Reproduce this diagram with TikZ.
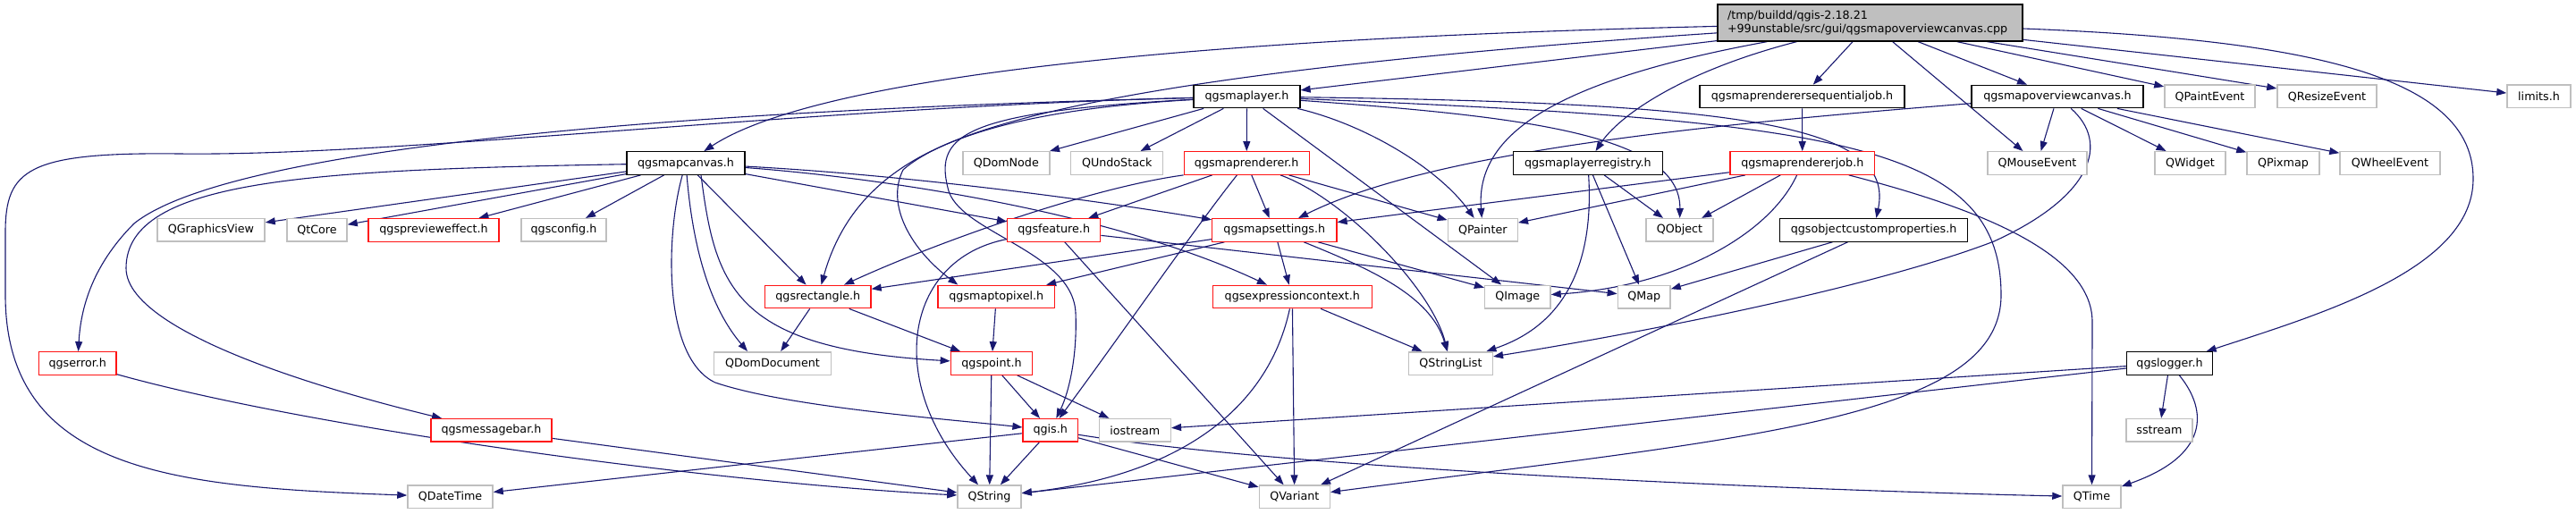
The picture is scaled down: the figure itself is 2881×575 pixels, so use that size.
\documentclass[tikz,border=0pt]{standalone}
\usepackage{fontspec}
\newfontfamily\djfont{DejaVu Sans}
\usetikzlibrary{arrows.meta}
\definecolor{edgec}{RGB}{25,25,112}
\definecolor{sysc}{RGB}{191,191,191}
\definecolor{redc}{RGB}{255,20,20}
\definecolor{topfill}{RGB}{191,191,191}
\pgfdeclarelayer{bglayer}
\pgfdeclarelayer{edgelayer}
\pgfsetlayers{bglayer,edgelayer,main}
\newcommand{\nfont}{\djfont\fontsize{12.7pt}{15.4pt}\selectfont}
\tikzset{
  nbase/.style={rectangle, fill=white, minimum height=25.5pt, inner sep=0pt, text=black, font=\nfont},
  blk/.style={nbase, draw=black, line width=1.3pt},
  redbox/.style={nbase, draw=redc, line width=1.3pt},
  sysbox/.style={nbase, draw=sysc, line width=1.5pt},
  topbox/.style={rectangle, fill=topfill, draw=black, line width=1.3pt, inner xsep=11pt, inner ysep=0pt,
     text width=319pt, align=left, minimum height=41pt, font=\nfont},
  dep/.style={draw=edgec, line width=1.1pt, -{Triangle[length=11pt,width=8pt]}}
}
\begin{document}
\begin{tikzpicture}[x=1pt,y=-1pt]
\begin{pgfonlayer}{bglayer}
\fill[white] (0,0) rectangle (2881,575);
\end{pgfonlayer}
\useasboundingbox (0,0) rectangle (2881,575);
% row 0
\node[topbox] (T) at (2091.5,25.5) {/tmp/buildd/qgis-2.18.21\\+99unstable/src/gui/qgsmapoverviewcanvas.cpp};
% row 1
\node[blk, minimum width=119pt] (ML) at (1394.5,108) {qgsmaplayer.h};
\node[blk, minimum width=229pt] (SEQ) at (2015.5,108) {qgsmaprenderersequentialjob.h};
\node[blk, minimum width=192pt] (MOC) at (2301,108) {qgsmapoverviewcanvas.h};
\node[sysbox, minimum width=101pt] (QPE) at (2471.5,108) {QPaintEvent};
\node[sysbox, minimum width=111pt] (QRE) at (2602.5,108) {QResizeEvent};
\node[sysbox, minimum width=71pt] (LIM) at (2839.5,108) {limits.h};
% row 2
\node[blk, minimum width=132pt] (MC) at (767,182.5) {qgsmapcanvas.h};
\node[sysbox, minimum width=97pt] (QDN) at (1125.3,182.5) {QDomNode};
\node[sysbox, minimum width=103pt] (QUS) at (1249.2,182.5) {QUndoStack};
\node[redbox, minimum width=140pt] (MR) at (1394.2,182.5) {qgsmaprenderer.h};
\node[blk, minimum width=167pt] (MLR) at (1775.8,182.5) {qgsmaplayerregistry.h};
\node[redbox, minimum width=161.5pt] (MRJ) at (2015.8,182.5) {qgsmaprendererjob.h};
\node[sysbox, minimum width=111pt] (QME) at (2278.5,182.5) {QMouseEvent};
\node[sysbox, minimum width=79pt] (QWI) at (2449.5,182.5) {QWidget};
\node[sysbox, minimum width=81pt] (QPX) at (2553.5,182.5) {QPixmap};
\node[sysbox, minimum width=112pt] (QWE) at (2673,182.5) {QWheelEvent};
% row 3
\node[sysbox, minimum width=120pt] (QGV) at (236,257.4) {QGraphicsView};
\node[sysbox, minimum width=67pt] (QTC) at (354.5,257.4) {QtCore};
\node[redbox, minimum width=146pt] (PRE) at (485,257.4) {qgsprevieweffect.h};
\node[sysbox, minimum width=95pt] (CFG) at (630.5,257.4) {qgsconfig.h};
\node[redbox, minimum width=104pt] (QF) at (1178.7,257.4) {qgsfeature.h};
\node[redbox, minimum width=139.3pt] (MS) at (1425.3,257.4) {qgsmapsettings.h};
\node[sysbox, minimum width=78pt] (QPT) at (1658.3,257.4) {QPainter};
\node[sysbox, minimum width=75pt] (QOB) at (1878.5,257.4) {QObject};
\node[blk, minimum width=210pt] (OCP) at (2095.6,257.4) {qgsobjectcustomproperties.h};
% row 4
\node[redbox, minimum width=118.5pt] (QR) at (914.8,332) {qgsrectangle.h};
\node[redbox, minimum width=130.7pt] (MTP) at (1114.3,332) {qgsmaptopixel.h};
\node[redbox, minimum width=178pt] (QE) at (1445.3,332) {qgsexpressioncontext.h};
\node[sysbox, minimum width=73.3pt] (QIM) at (1697.3,332) {QImage};
\node[sysbox, minimum width=58.7pt] (QMP) at (1838.7,332) {QMap};
% row 5
\node[redbox, minimum width=86.5pt] (ERR) at (86.8,406.5) {qgserror.h};
\node[sysbox, minimum width=131pt] (QDD) at (864,406.5) {QDomDocument};
\node[redbox, minimum width=91.4pt] (QP) at (1109,406.5) {qgspoint.h};
\node[sysbox, minimum width=93.6pt] (QSL) at (1622.5,406.5) {QStringList};
\node[blk, minimum width=96pt] (LOG) at (2426.5,406.5) {qgslogger.h};
% row 6
\node[redbox, minimum width=135pt] (MB) at (549.5,481.3) {qgsmessagebar.h};
\node[redbox, minimum width=61.3pt] (QG) at (1174.7,481.3) {qgis.h};
\node[sysbox, minimum width=80pt] (IOS) at (1269.3,481.3) {iostream};
\node[sysbox, minimum width=74pt] (SST) at (2415,481.3) {sstream};
% row 7
\node[sysbox, minimum width=95pt] (QDT) at (503.5,555.8) {QDateTime};
\node[sysbox, minimum width=71pt] (QS) at (1106.5,555.8) {QString};
\node[sysbox, minimum width=79pt] (QV) at (1447.8,555.8) {QVariant};
\node[sysbox, minimum width=65pt] (QTM) at (2339.5,555.8) {QTime};

\begin{pgfonlayer}{edgelayer}
% edges from the cpp
\draw[dep] (T) .. controls (1250,45) and (900,95) .. (MC);
\draw[dep] (T) -- (ML);
\draw[dep] (T) -- (SEQ);
\draw[dep] (T) -- (QME);
\draw[dep] (T) -- (MOC);
\draw[dep] (T) -- (QPE);
\draw[dep] (T) -- (QRE);
\draw[dep] (T) -- (LIM);
\draw[dep] (T) .. controls (2600,45) and (2766,90) .. (2766,200) .. controls (2766,300) and (2600,350) .. (LOG);
\draw[dep] (T) .. controls (1740,90) and (1650,150) .. (QPT);
\draw[dep] (T) .. controls (1880,80) and (1810,130) .. (MLR);
\draw[dep] (T) .. controls (1500,65) and (1100,110) .. (1010,190) .. controls (990,230) and (1020,280) .. ([xshift=-43pt]MTP.north);
% qgsmaplayer.h
\draw[dep] (ML) .. controls (900,120) and (450,175) .. (200,172) .. controls (30,170) and (6,190) .. (6,260) -- (6,330) .. controls (6,530) and (200,545) .. (QDT);
\draw[dep] (ML) .. controls (700,125) and (250,170) .. (150,250) .. controls (100,300) and (90,350) .. (ERR);
\draw[dep] (ML) .. controls (1100,125) and (960,170) .. (QR);
\draw[dep] (ML) .. controls (1080,125) and (1045,150) .. (1060,210) .. controls (1070,260) and (1200,280) .. (1203,350) .. controls (1205,400) and (1195,440) .. (QG);
\draw[dep] (ML) -- (QDN);
\draw[dep] (ML) -- (QUS);
\draw[dep] (ML) -- (MR);
\draw[dep] (ML) -- (QIM);
\draw[dep] (ML) .. controls (1530,140) and (1610,190) .. (QPT);
\draw[dep] (ML) .. controls (1950,115) and (2120,140) .. (OCP);
\draw[dep] (ML) .. controls (2050,135) and (2238,160) .. (2238,330) .. controls (2238,470) and (1950,490) .. (QV);
\draw[dep] (ML) .. controls (1700,130) and (1880,150) .. (QOB);
% qgsmaprenderer.h
\draw[dep] (MR.south west) .. controls (1220,210) and (1050,270) .. (QR);
\draw[dep] (MR) -- (QF);
\draw[dep] (MR) .. controls (1340,250) and (1250,380) .. (QG);
\draw[dep] (MR) -- (MS);
\draw[dep] (MR) .. controls (1500,220) and (1600,320) .. (QSL);
\draw[dep] (MR) -- (QPT);
% qgsfeature.h
\draw[dep] (QF) .. controls (1010,290) and (990,430) .. (QS);
\draw[dep] (QF) -- (QV);
\draw[dep] (QF) -- (QMP);
% qgsmapsettings.h
\draw[dep] (MS) -- (QR);
\draw[dep] (MS) -- (MTP);
\draw[dep] (MS) -- (QE);
\draw[dep] (MS) .. controls (1530,300) and (1600,330) .. (QSL);
\draw[dep] (MS) -- (QIM);
% qgsmapcanvas.h
\draw[dep] (MC) -- (QGV);
\draw[dep] (MC) -- (QTC);
\draw[dep] (MC) -- (PRE);
\draw[dep] (MC) -- (CFG);
\draw[dep] (MC) .. controls (350,190) and (141,200) .. (141,300) .. controls (141,380) and (420,450) .. (MB);
\draw[dep] (MC) .. controls (745,260) and (740,400) .. (800,428) .. controls (880,455) and (1050,468) .. (QG);
\draw[dep] (MC) .. controls (775,280) and (795,345) .. ([xshift=-28pt]QDD.north);
\draw[dep] ([xshift=17pt]MC.south) .. controls (800,320) and (820,390) .. (QP);
\draw[dep] (MC) -- (QR);
\draw[dep] (MC) .. controls (1000,195) and (1200,220) .. (MS);
\draw[dep] (MC) .. controls (1000,200) and (1250,240) .. (QE);
\draw[dep] (MC) -- (QF);
% qgsrectangle.h, qgsmaptopixel.h, qgspoint.h
\draw[dep] (QR) -- (QDD);
\draw[dep] (QR) -- (QP);
\draw[dep] (MTP) -- (QP);
\draw[dep] (QP) -- (QS);
\draw[dep] (QP) -- (QG);
\draw[dep] (QP) -- (IOS);
% qgis.h
\draw[dep] (QG) -- (QS);
\draw[dep] (QG) -- (QV);
\draw[dep] (QG) -- (QDT);
\draw[dep] (QG) .. controls (1450,525) and (2000,548) .. (QTM);
% qgsexpressioncontext.h
\draw[dep] (QE) .. controls (1420,450) and (1330,530) .. (QS);
\draw[dep] (QE) -- (QV);
\draw[dep] (QE) -- (QSL);
% qgsmaplayerregistry.h
\draw[dep] (MLR) -- (QOB);
\draw[dep] (MLR) -- (QMP);
\draw[dep] (MLR) .. controls (1782,280) and (1760,360) .. (QSL);
% qgsobjectcustomproperties.h
\draw[dep] (OCP) -- (QMP);
\draw[dep] (OCP) -- (QV);
% renderer jobs
\draw[dep] (SEQ) -- (MRJ);
\draw[dep] (MRJ) -- (MS);
\draw[dep] (MRJ) -- (QPT);
\draw[dep] (MRJ) -- (QOB);
\draw[dep] (MRJ) .. controls (1980,260) and (1880,320) .. (QIM);
\draw[dep] (MRJ) .. controls (2200,230) and (2340,280) .. (2340,360) -- (QTM);
% qgsmapoverviewcanvas.h
\draw[dep] (MOC) -- (QME);
\draw[dep] (MOC) -- (QWI);
\draw[dep] (MOC) -- (QPX);
\draw[dep] (MOC) -- (QWE);
\draw[dep] (MOC) .. controls (1900,140) and (1600,170) .. (MS);
\draw[dep] (MOC) .. controls (2360,160) and (2340,220) .. (2230,270) .. controls (2100,320) and (1850,370) .. (QSL);
% qgslogger.h
\draw[dep] (LOG) -- (SST);
\draw[dep] (LOG) .. controls (2470,460) and (2470,510) .. (QTM);
\draw[dep] (LOG) -- (IOS);
\draw[dep] (LOG) -- (QS);
% qgserror.h, qgsmessagebar.h
\draw[dep] (ERR) .. controls (350,480) and (800,540) .. (QS);
\draw[dep] (MB) -- (QS);
\end{pgfonlayer}
\end{tikzpicture}
\end{document}
